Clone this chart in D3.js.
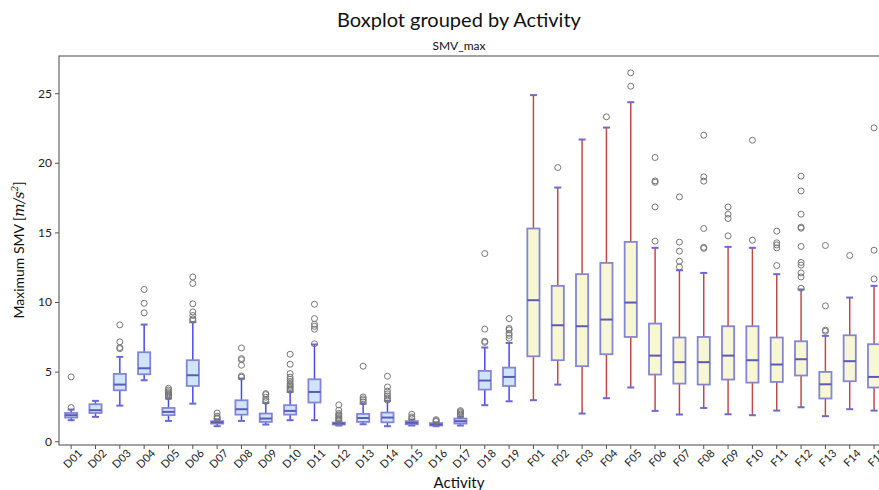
<!DOCTYPE html>
<html>
<head>
<meta charset="utf-8">
<script src="https://cdn.jsdelivr.net/npm/d3@7"></script>
<style>
    body { margin: 0; background: #fff; }
    svg { display: block; font-family: Lato, "Open Sans", sans-serif; }
</style>
</head>
<body>
<div id="chart"></div>
<script>
// Activities and box statistics
const activities = ["D01","D02","D03","D04","D05","D06","D07","D08","D09","D10","D11","D12","D13","D14","D15","D16","D17","D18","D19",
    "F01","F02","F03","F04","F05","F06","F07","F08","F09","F10","F11","F12","F13","F14","F15"];
const whiskerLow = [1.51,1.75,2.56,4.38,1.46,2.7,1.08,1.46,1.2,1.51,1.51,1.13,1.22,1.08,1.13,1.08,1.13,2.59,2.87,
    2.95,4.07,1.99,3.09,3.86,2.18,1.92,2.39,1.94,1.87,2.2,2.44,1.8,2.3,2.2];
const q1 = [1.70,2.03,3.66,4.81,1.87,3.97,1.27,1.91,1.39,1.91,2.78,1.2,1.39,1.36,1.22,1.13,1.27,3.71,3.97,
    6.1,5.82,5.39,6.25,7.49,4.79,4.14,4.07,4.43,4.21,4.26,4.72,3.07,4.31,3.86];
const medians = [1.87,2.23,4.07,5.24,2.11,4.74,1.36,2.3,1.63,2.18,3.54,1.27,1.67,1.7,1.32,1.2,1.44,4.36,4.62,
    10.13,8.33,8.26,8.74,9.96,6.15,5.68,5.68,6.15,5.82,5.51,5.89,4.09,5.75,4.62];
const q3 = [2.03,2.66,4.84,6.39,2.39,5.82,1.44,2.94,1.99,2.59,4.45,1.34,1.96,2.06,1.44,1.3,1.63,5.05,5.29,
    15.28,11.16,12.0,12.81,14.32,8.45,7.45,7.49,8.26,8.26,7.45,7.18,4.98,7.61,6.97];
const whiskerHigh = [2.28,2.9,6.06,8.38,3.07,8.55,1.56,4.5,2.75,3.54,6.95,1.4,2.7,2.9,1.56,1.36,1.75,6.73,7.06,
    24.86,18.22,21.67,22.53,24.35,13.89,12.28,12.09,13.96,13.89,12.0,10.9,7.57,10.32,11.16];
const fliers = [
    [2.42,4.62],
    [],
    [6.65,6.73,7.14,8.36],
    [9.22,9.91,10.9],
    [3.18,3.25,3.32,3.4,3.48,3.57,3.68,3.8],
    [8.7,8.79,9.03,9.29,9.87,11.33,11.8],
    [1.62,1.68,1.8,2.03],
    [4.6,4.69,5.46,5.85,5.94,6.7],
    [2.86,2.99,3.16,3.35,3.42],
    [3.66,3.75,3.85,3.95,4.05,4.15,4.3,4.45,4.6,4.86,5.53,6.25],
    [7.0,8.05,8.25,8.4,8.81,9.84],
    [1.48,1.55,1.62,1.7,1.8,1.9,2.0,2.23,2.61],
    [2.82,2.95,3.05,3.18,5.39],
    [2.95,3.1,3.25,3.4,3.6,3.9,4.67],
    [1.65,1.75,1.94],
    [1.42,1.48,1.55],
    [1.87,1.95,2.05,2.12,2.2],
    [7.1,7.18,8.05,13.48],
    [7.4,7.6,7.75,8.0,8.1,8.81],
    [],
    [19.66],
    [],
    [23.3],
    [25.5,26.46],
    [14.37,16.83,18.6,18.7,20.38],
    [12.52,12.93,13.65,14.3,17.55],
    [13.85,13.93,15.28,18.68,18.99,21.98],
    [14.75,16.0,16.31,16.83],
    [14.44,21.62],
    [12.62,13.89,14.1,14.25,15.09],
    [10.99,11.8,12.09,12.65,12.84,13.99,15.3,15.38,16.31,17.98,19.04],
    [7.9,7.98,9.72,14.06],
    [13.34],
    [11.66,13.72,22.51]
];
const yTicks = [0, 5, 10, 15, 20, 25];

const width = 879, height = 490;
const margin = { top: 56, left: 59, bottom: 445 };
const plotRight = 59 + 34 * 24.33; // axes run past the crop on the right

const rows = activities.map((a, i) => ({
    name: a, lo: whiskerLow[i], q1: q1[i], med: medians[i], q3: q3[i], hi: whiskerHigh[i], out: fliers[i],
    group: a[0]
}));

const svg = d3.select("#chart").append("svg")
    .attr("width", width)
    .attr("height", height);

const x = d3.scaleBand().domain(activities).range([margin.left, plotRight]).padding(0);
const y = d3.scaleLinear().domain([-0.27, 27.67]).range([margin.bottom, margin.top]);
const bw = x.bandwidth() * 0.5;
const cx = d => x(d.name) + x.bandwidth() / 2;

const style = {
    D: { fill: "#cfe5fb", whisker: "#4a4af0" },
    F: { fill: "#f7f7d4", whisker: "#c04a4a" }
};
const boxEdge = "#8585d6";
const capColor = "#6a6ad4";
const medColor = "#5a5ab8";

// Titles
svg.append("text")
    .attr("x", 459).attr("y", 27)
    .attr("text-anchor", "middle")
    .attr("font-size", 20)
    .attr("fill", "#111")
    .text("Boxplot grouped by Activity");

svg.append("text")
    .attr("x", 459).attr("y", 50)
    .attr("text-anchor", "middle")
    .attr("font-size", 12)
    .attr("fill", "#111")
    .text("SMV_max");

// Boxes
const g = svg.append("g");
const box = g.selectAll(".box").data(rows).join("g").attr("class", "box");

box.append("line")
    .attr("x1", cx).attr("x2", cx)
    .attr("y1", d => y(d.q3)).attr("y2", d => y(d.hi))
    .attr("stroke", d => style[d.group].whisker).attr("stroke-width", 1.5);
box.append("line")
    .attr("x1", cx).attr("x2", cx)
    .attr("y1", d => y(d.q1)).attr("y2", d => y(d.lo))
    .attr("stroke", d => style[d.group].whisker).attr("stroke-width", 1.5);

["lo", "hi"].forEach(k => {
    box.append("line")
        .attr("x1", d => cx(d) - 3.5).attr("x2", d => cx(d) + 3.5)
        .attr("y1", d => y(d[k])).attr("y2", d => y(d[k]))
        .attr("stroke", capColor).attr("stroke-width", 2);
});

box.append("rect")
    .attr("x", d => cx(d) - bw / 2)
    .attr("width", bw)
    .attr("y", d => y(d.q3))
    .attr("height", d => y(d.q1) - y(d.q3))
    .attr("fill", d => style[d.group].fill)
    .attr("stroke", boxEdge).attr("stroke-width", 1.8);

box.append("line")
    .attr("x1", d => cx(d) - bw / 2).attr("x2", d => cx(d) + bw / 2)
    .attr("y1", d => y(d.med)).attr("y2", d => y(d.med))
    .attr("stroke", medColor).attr("stroke-width", 2);

box.selectAll("circle")
    .data(d => d.out.map(v => ({ v, d })))
    .join("circle")
    .attr("cx", o => cx(o.d))
    .attr("cy", o => y(o.v))
    .attr("r", 3)
    .attr("fill", "none")
    .attr("stroke", "#777").attr("stroke-width", 1);

// Frame
svg.append("rect")
    .attr("x", margin.left).attr("y", margin.top)
    .attr("width", plotRight - margin.left).attr("height", margin.bottom - margin.top)
    .attr("fill", "none").attr("stroke", "#666").attr("stroke-width", 1.2);

// Y axis
const yAxis = svg.append("g")
    .attr("transform", `translate(${margin.left},0)`)
    .call(d3.axisLeft(y).tickValues(yTicks).tickSize(4).tickSizeOuter(0));
yAxis.select(".domain").remove();
yAxis.selectAll("line").attr("stroke", "#555");
yAxis.selectAll("text").attr("font-size", 12).attr("fill", "#222").attr("font-family", "Lato, sans-serif");

// X axis
const xAxis = svg.append("g")
    .attr("transform", `translate(0,${margin.bottom})`)
    .call(d3.axisBottom(x).tickSize(4).tickSizeOuter(0));
xAxis.select(".domain").remove();
xAxis.selectAll("line").attr("stroke", "#555");
xAxis.selectAll("text")
    .attr("font-size", 11).attr("fill", "#222").attr("font-family", "Lato, sans-serif")
    .attr("text-anchor", "end")
    .attr("dy", 0).attr("y", 6).attr("x", 2)
    .attr("transform", "rotate(-45)")
    .attr("dominant-baseline", "hanging");

// Axis labels
svg.append("text")
    .attr("x", 459).attr("y", 488)
    .attr("text-anchor", "middle")
    .attr("font-size", 15)
    .attr("fill", "#111")
    .text("Activity");

const yl = svg.append("text")
    .attr("transform", `translate(24,250) rotate(-90)`)
    .attr("text-anchor", "middle")
    .attr("font-size", 14)
    .attr("fill", "#111");
yl.append("tspan").text("Maximum SMV [");
yl.append("tspan").attr("font-style", "italic").attr("font-family", "DejaVu Serif, serif").text("m/s");
yl.append("tspan").attr("font-style", "italic").attr("font-family", "DejaVu Serif, serif")
    .attr("font-size", 9).attr("dy", -6).text("2");
yl.append("tspan").attr("dy", 6).text("]");
</script>
</body>
</html>
